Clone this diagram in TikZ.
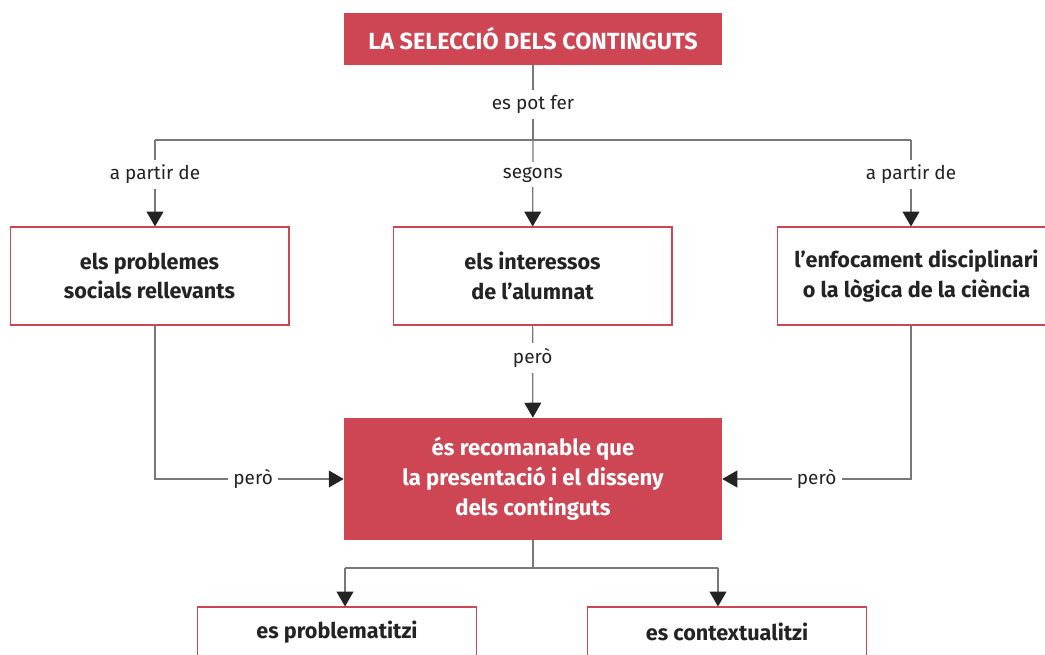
\documentclass[tikz,border=0pt]{standalone}
\usepackage{fontspec}
\setmainfont{Fira Sans}
\usepackage{tikz}
\usetikzlibrary{arrows.meta,calc}

\definecolor{vermell}{RGB}{206,70,84}
\definecolor{tinta}{RGB}{35,35,35}
\definecolor{linia}{RGB}{120,120,120}

\begin{document}
\begin{tikzpicture}[x=0.02cm, y=-0.02cm,
			every node/.style = {align=center, text=tinta},
			redbox/.style = {rectangle, fill=vermell, draw=none, text=white,
				font=\fontsize{12.6}{17}\selectfont\bfseries, inner sep=0pt},
			whitebox/.style = {rectangle, draw=vermell, line width=0.6pt, fill=white,
				font=\fontsize{12.3}{17}\selectfont\bfseries, inner sep=0pt,
				minimum width=5.58cm},
			lbl/.style = {fill=white, inner sep=3pt, font=\fontsize{10.8}{13}\selectfont},
			conn/.style = {draw=linia, line width=0.7pt},
			arr/.style = {conn, -{Triangle[width=9.6pt,length=8.5pt,color=tinta]}}]
			\clip (0,0) rectangle (1045,654);
			\fill[white] (0,0) rectangle (1045,654);
			% top and centre boxes
			\node[redbox, minimum width=7.56cm, minimum height=1.04cm, font=\fontsize{13.3}{17}\selectfont\bfseries] (selec) at (533,39) {LA SELECCIÓ DELS CONTINGUTS};
			\node[redbox, minimum width=7.56cm, minimum height=2.44cm] (recom) at (533,479) {és recomanable que\\la presentació i el disseny\\dels continguts};
			% the three sources
			\node[whitebox, minimum height=1.96cm] (probl) at (149.5,276) {els problemes\\socials rellevants};
			\node[whitebox, minimum height=1.96cm] (inter) at (532.5,276) {els interessos\\de l’alumnat};
			\node[whitebox, minimum height=1.96cm] (enfoc) at (916.5,276) {l’enfocament disciplinari\\o la lògica de la ciència};
			% the two results
			\node[whitebox, minimum height=1.0cm] (probz) at (337,632) {es problematitzi};
			\node[whitebox, minimum height=1.0cm] (contx) at (727,632) {es contextualitzi};
			\coordinate (split) at (533,140);
			\coordinate (colL) at (155,140);
			\coordinate (colR) at (911,140);
			\coordinate (splitB) at (533,568);
			\coordinate (colBL) at (345,568);
			\coordinate (colBR) at (718,568);
			\draw[conn] (selec) -- node[lbl, pos=0.52] {es pot fer} (split);
			\draw[conn] (colL) -- (colR);
			\draw[arr] (colL) -- node[lbl, pos=0.4] {a partir de} (colL |- probl.north);
			\draw[arr] (split) -- node[lbl, pos=0.4] {segons} (inter);
			\draw[arr] (colR) -- node[lbl, pos=0.4] {a partir de} (colR |- enfoc.north);
			\draw[arr] (inter) -- node[lbl, pos=0.35] {però} (recom);
			\draw[arr] (colL |- probl.south) |- node[lbl, pos=0.76] {però} (recom.west);
			\draw[arr] (colR |- enfoc.south) |- node[lbl, pos=0.75] {però} (recom.east);
			\draw[conn] (recom) -- (splitB);
			\draw[conn] (colBL) -- (colBR);
			\draw[arr] (colBL) -- (colBL |- probz.north);
			\draw[arr] (colBR) -- (colBR |- contx.north);
		\end{tikzpicture}
\end{document}
